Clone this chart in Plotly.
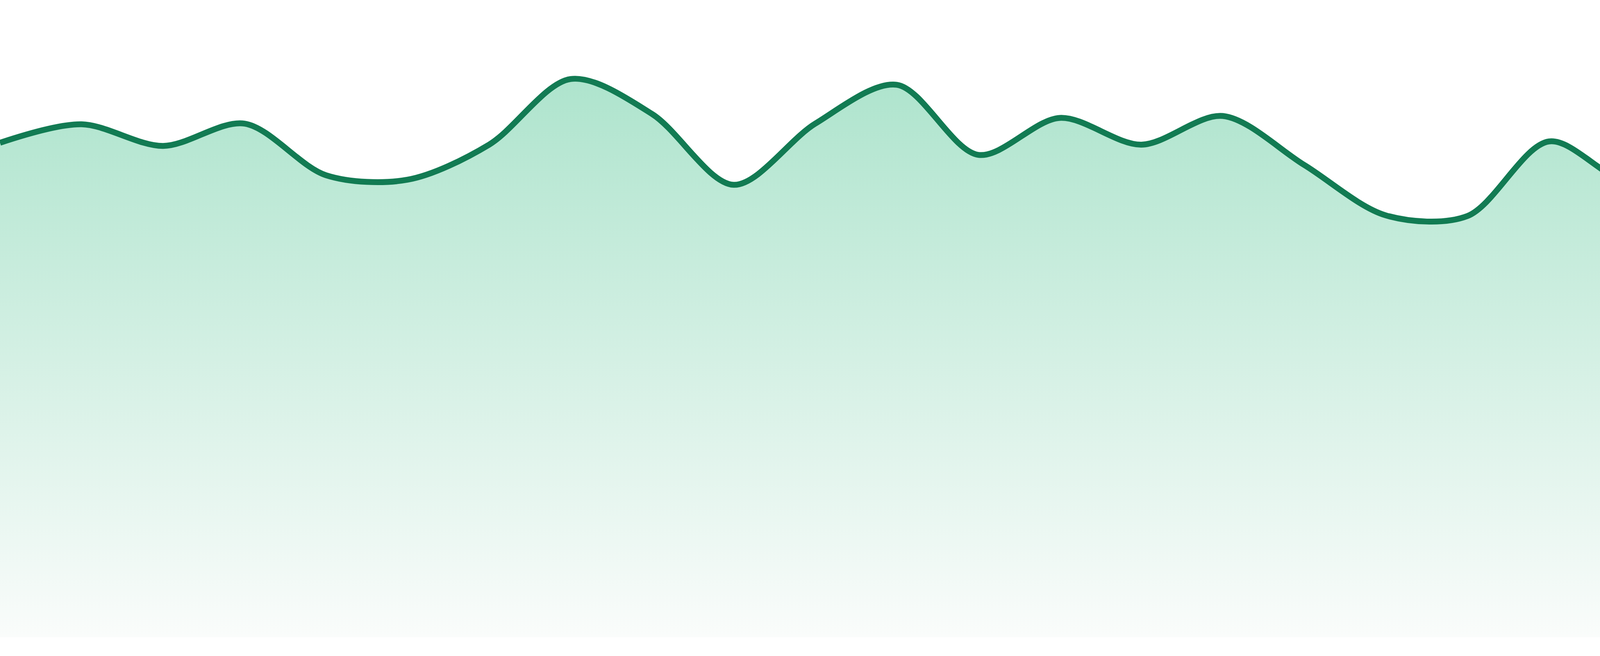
import plotly.graph_objects as go

# hourly readings (24 points)
hours = list(range(24))
values = [77.6, 80.5, 77.1, 80.6, 72.5, 71.8, 77.3, 87.6,
          82.1, 71.0, 80.6, 86.7, 75.7, 81.5, 77.3, 81.8,
          74.1, 66.2, 66.1, 77.8, 71.4, 76.5, 86.9, 81.9]

line_color = "#127B53"
fill_top = "rgb(174,228,205)"
fill_bottom = "rgb(250,252,251)"

fig = go.Figure()

fig.add_trace(go.Scatter(
    x=hours,
    y=values,
    mode="lines",
    line=dict(color=line_color, width=15, shape="spline", smoothing=0.9),
    fill="tozeroy",
    fillgradient=dict(
        type="vertical",
        colorscale=[[0, fill_bottom], [1, fill_top]],
        start=0,
        stop=max(values),
    ),
    hoverinfo="skip",
    showlegend=False,
))

fig.update_layout(
    width=4800,
    height=1680,
    margin=dict(l=0, r=0, t=0, b=48, pad=0),
    plot_bgcolor="white",
    paper_bgcolor="white",
    xaxis=dict(range=[0, 23], visible=False, showgrid=False, zeroline=False),
    yaxis=dict(range=[0, 100], visible=False, showgrid=False, zeroline=False),
    showlegend=False,
)

fig.write_html(
    "out.html",
    config={"displayModeBar": False},
    post_script="document.body.style.margin='0';document.body.style.overflow='hidden';",
)
